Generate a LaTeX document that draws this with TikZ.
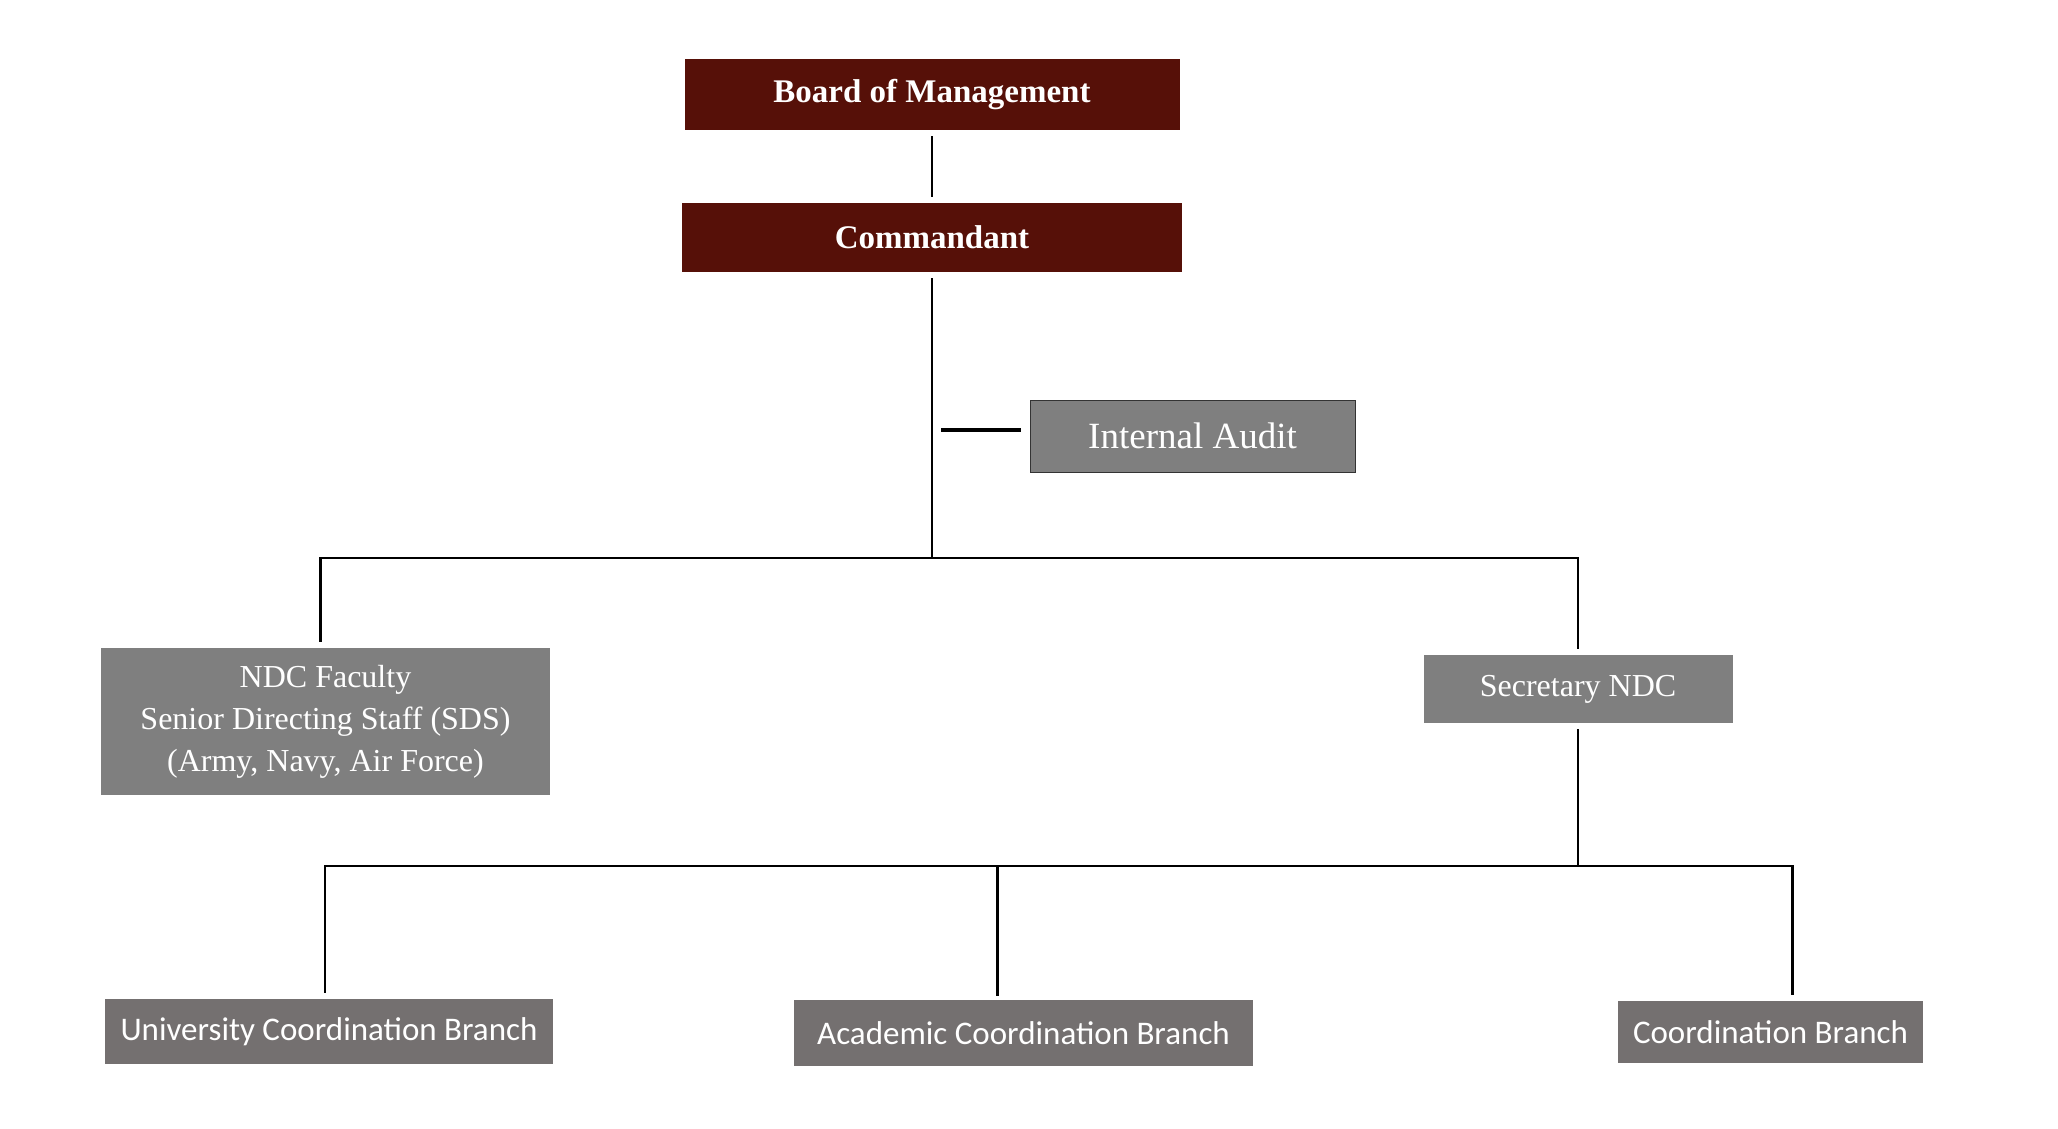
\documentclass[tikz,border=0pt]{standalone}
\usepackage{fontspec}
\setmainfont{Liberation Serif}
\newfontfamily\branchfont{Carlito}
\usetikzlibrary{positioning}
\definecolor{maroon}{HTML}{561008}
\definecolor{boxgrey}{HTML}{7F7F7F}
\definecolor{branchgrey}{HTML}{747070}
\tikzset{
  headbox/.style = {fill=maroon, text=white, inner sep=0pt, font=\fontsize{33}{38}\selectfont\bfseries},
  staffbox/.style = {fill=boxgrey, text=white, inner sep=0pt, font=\fontsize{32}{42}\selectfont, align=center},
  branchbox/.style = {fill=branchgrey, text=white, inner sep=0pt, font=\branchfont\fontsize{33}{38}\selectfont},
  link/.style = {black, line width=2.8pt, shorten <=6pt, shorten >=6pt}
}
\begin{document}
\begin{tikzpicture}[x=1pt, y=-1pt]
\useasboundingbox (0,0) rectangle (2058,1128);
\node [headbox, minimum width=495pt, minimum height=71pt] (board) at (932,94.5) {Board of Management};
\node [headbox, minimum width=500pt, minimum height=69pt] (cmd) at (932,237.5) {Commandant};
\node [staffbox, draw=black!80, line width=1pt, minimum width=325pt, minimum height=72pt, font=\fontsize{37}{42}\selectfont] (audit) at (1192.5,436) {Internal Audit};
\node [staffbox, minimum width=449pt, minimum height=147pt] (ndc) at (325.5,721.5) {NDC Faculty\\Senior Directing Staff (SDS)\\(Army, Navy, Air Force)};
\node [staffbox, minimum width=309pt, minimum height=68pt] (sec) at (1578,689) {Secretary NDC};
\node [branchbox, minimum width=448pt, minimum height=65pt] (uni) at (329,1031.5) {University Coordination Branch};
\node [branchbox, minimum width=459pt, minimum height=66pt] (acad) at (1023.5,1033) {Academic Coordination Branch};
\node [branchbox, minimum width=305pt, minimum height=62pt] (coord) at (1770.5,1032) {Coordination Branch};
\coordinate (hub) at (932,558);
\coordinate (tap) at (941,430);
\coordinate (hub2) at (1578,866);
\draw [link] (board.south) -- (cmd.north);
\draw [link, shorten >=0pt] (cmd.south) -- (hub);
\draw [link, line width=3.5pt, shorten <=0pt, shorten >=9pt] (tap) -- (tap -| audit.west);
\draw [link] ([xshift=-5pt]ndc.north) |- (hub) -| (sec.north);
\draw [link, shorten >=0pt] (sec.south) -- (hub2);
\draw [link] ([xshift=-4pt]uni.north) |- (hub2) -| ([xshift=22pt]coord.north);
\draw [link, shorten <=4pt, shorten >=0pt] ([xshift=-26pt]acad.north) -- ([xshift=-26pt]acad.north |- hub2);
\end{tikzpicture}
\end{document}
